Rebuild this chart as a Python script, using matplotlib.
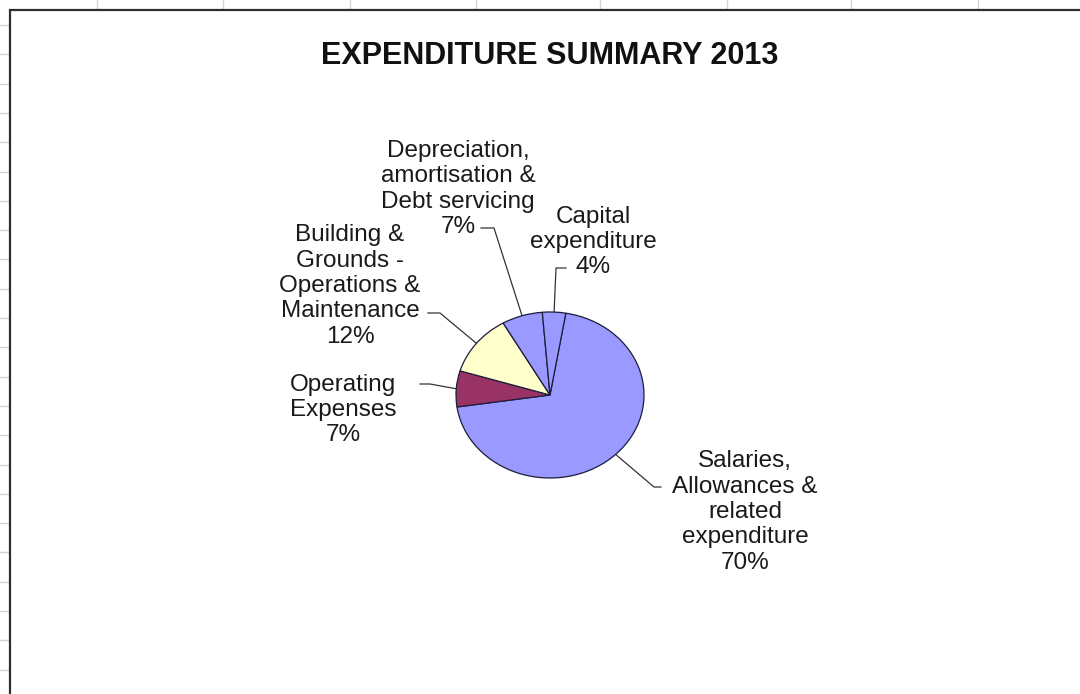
import numpy as np
import matplotlib.pyplot as plt

plt.rcParams['font.family'] = ['Liberation Sans', 'DejaVu Sans']

title = "EXPENDITURE SUMMARY 2013"
categories = [
    "Salaries,\nAllowances &\nrelated\nexpenditure",
    "Operating\nExpenses",
    "Building &\nGrounds -\nOperations &\nMaintenance",
    "Depreciation,\namortisation &\nDebt servicing",
    "Capital\nexpenditure",
]
shares = [70, 7, 12, 7, 4]
colors = ["#9999FF", "#993366", "#FFFFCC", "#9999FF", "#9999FF"]

# where each label sits (pixel centre) and where its leader leaves the text
label_xy = [(745, 512), (343, 410), (350, 286), (458, 189), (593, 242)]
leader_xy = [(661, 487), (420, 384), (428, 313), (481, 228), (566, 268)]
elbow_dx = [-7, 10, 12, 13, -10]

W, H = 1080, 694
fig = plt.figure(figsize=(W / 100, H / 100), dpi=100)

# sheet background in pixel coordinates
bg = fig.add_axes([0, 0, 1, 1])
bg.set_xlim(0, W)
bg.set_ylim(H, 0)
bg.axis('off')

for x in [97, 223, 350, 476, 600, 727, 851, 978]:
    bg.plot([x, x], [0, 9], color='#d4d4d4', lw=1)
for y in np.arange(25, H, 29.3):
    bg.plot([0, 8], [y, y], color='#d4d4d4', lw=1)

# chart area border (runs off the right and bottom)
bg.plot([10, 10, W + 5], [H + 5, 10, 10], color='#2e2e2e', lw=1.6,
        solid_joinstyle='miter')

bg.text(550, 56, title, ha='center', va='center', fontsize=22,
        fontweight='bold', color='#111111')

# pie, squashed slightly in height
cx, cy, rx, ry = 550, 395, 94, 83
ax = fig.add_axes([(cx - rx) / W, 1 - (cy + ry) / H, 2 * rx / W, 2 * ry / H])
wedges, _ = ax.pie(shares, colors=colors, startangle=80.3, counterclock=False,
                   wedgeprops=dict(edgecolor='#1c1c3c', linewidth=0.9))
ax.set_aspect('auto')
ax.set_xlim(-1, 1)
ax.set_ylim(-1, 1)
ax.axis('off')
for w in wedges:
    w.set_clip_on(False)

to_bg = bg.transData.inverted()
for w, cat, v, (tx, ty), (lx, ly), dx in zip(wedges, categories, shares,
                                              label_xy, leader_xy, elbow_dx):
    mid = np.deg2rad((w.theta1 + w.theta2) / 2)
    px, py = to_bg.transform(ax.transData.transform((np.cos(mid), np.sin(mid))))
    bg.plot([lx, lx + dx, px], [ly, ly, py], color='#333333', lw=0.9)
    bg.text(tx, ty, f"{cat}\n{v}%", ha='center', va='center',
            multialignment='center', fontsize=17.5, linespacing=1.2,
            color='#1a1a1a')

fig.savefig('out.png', dpi=100)
